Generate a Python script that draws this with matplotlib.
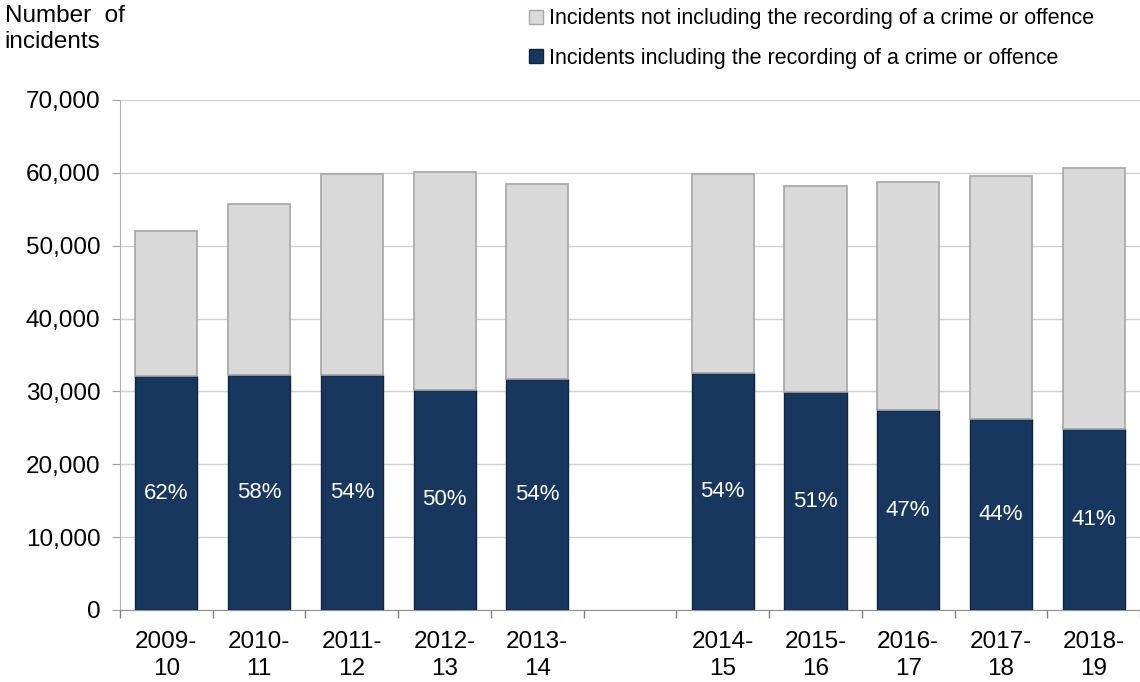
import numpy as np
import matplotlib
matplotlib.use("Agg")
import matplotlib.pyplot as plt
from matplotlib.patches import Patch
from matplotlib.ticker import FuncFormatter, FixedLocator

plt.rcParams['font.family'] = ['Liberation Sans', 'DejaVu Sans']

# Financial years, split into two series with a break between them
years_a = ["2009-\n10", "2010-\n11", "2011-\n12", "2012-\n13", "2013-\n14"]
years_b = ["2014-\n15", "2015-\n16", "2016-\n17", "2017-\n18", "2018-\n19"]

# Incidents including the recording of a crime or offence
crime_a = [32100, 32300, 32300, 30200, 31700]
crime_b = [32500, 29900, 27400, 26200, 24800]

# Incidents not including the recording of a crime or offence
no_crime_a = [19900, 23400, 27600, 29900, 26800]
no_crime_b = [27400, 28300, 31400, 33400, 35900]

navy = "#17375e"
light = "#d9d9d9"

years = years_a + years_b
crime = np.array(crime_a + crime_b)
no_crime = np.array(no_crime_a + no_crime_b)
# leave one empty slot between the two series
pos = np.array(list(range(len(years_a))) + [len(years_a) + 1 + i for i in range(len(years_b))])
share = crime / (crime + no_crime) * 100

fig = plt.figure(figsize=(11.4, 6.82), dpi=100)
ax = fig.add_axes([0.1053, 0.1056, 0.8947, 0.7478])

w = 0.67
ax.bar(pos, crime, width=w, color=navy, edgecolor="#0f2540", linewidth=1.0, zorder=3)
ax.bar(pos, no_crime, bottom=crime, width=w, color=light, edgecolor="#a6a6a6", linewidth=1.2, zorder=3)

for x, c, s in zip(pos, crime, share):
    ax.text(x, c / 2, f"{s:.0f}%", ha="center", va="center", color="white", fontsize=16, zorder=4)

ax.set_xlim(-0.5, pos[-1] + 0.5)
ax.set_ylim(0, 70000)
ax.set_yticks(np.arange(0, 70001, 10000))
ax.yaxis.set_major_formatter(FuncFormatter(lambda v, p: f"{v:,.0f}"))
ax.grid(axis="y", color="#d0d0d0", linewidth=1.0, zorder=0)

ax.set_xticks(pos)
ax.set_xticklabels(years, fontsize=17.5, linespacing=1.3)
ax.xaxis.set_minor_locator(FixedLocator(np.arange(-0.5, pos[-1] + 1, 1.0)))
ax.tick_params(axis="x", which="major", length=0, pad=15)
ax.tick_params(axis="x", which="minor", length=6, color="#808080", width=1)
ax.tick_params(axis="y", labelsize=17.5, length=6, color="#a0a0a0", pad=8)

for side in ["top", "right"]:
    ax.spines[side].set_visible(False)
ax.spines["left"].set_color("#b0b0b0")
ax.spines["bottom"].set_color("#909090")

fig.text(0.004, 0.993, "Number  of\nincidents", ha="left", va="top", fontsize=17.5, linespacing=1.25)

handles = [Patch(facecolor=light, edgecolor="#a6a6a6", label="Incidents not including the recording of a crime or offence"),
           Patch(facecolor=navy, edgecolor="#0f2540", label="Incidents including the recording of a crime or offence")]
fig.legend(handles=handles, loc="upper left", bbox_to_anchor=(0.447, 1.016), frameon=False,
           fontsize=15.5, handlelength=0.65, handleheight=0.65, handletextpad=0.3, labelspacing=0.85)

fig.savefig("out.png", dpi=100)
